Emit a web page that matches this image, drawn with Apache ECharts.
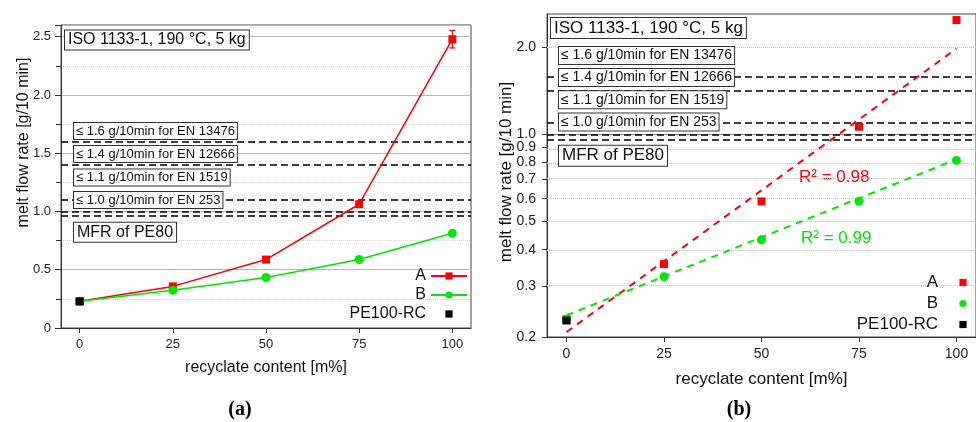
<!DOCTYPE html>
<html lang="en">
<head>
<meta charset="UTF-8">
<title>MFR</title>
<script src="https://cdn.jsdelivr.net/npm/echarts@6/dist/echarts.min.js"></script>
<style>body{margin:0;background:#fff} #chart{width:976px;height:422px}</style>
</head>
<body>
<div id="chart"></div>
<script>
var content = [0, 25, 50, 75, 100];
var mfrA = [0.23, 0.357, 0.587, 1.062, 2.478];
var errA = [0, 0, 0, 0, 0.075];
var mfrB = [0.23, 0.323, 0.433, 0.588, 0.813];
var refX = [0];
var mfrRef = [0.228];
var limits = [1.6, 1.4, 1.1, 1.0, 0.96];
var fitX = [0, 100];
var fitA = [0.208, 1.975];
var fitB = [0.2375, 0.82];
var logTicks = [0.2, 0.3, 0.4, 0.5, 0.6, 0.7, 0.8, 0.9, 1.0, 2.0];
var xTicks = [0, 25, 50, 75, 100];
var boxTexts = ['ISO 1133-1, 190 °C, 5 kg', '≤ 1.6 g/10min for EN 13476', '≤ 1.4 g/10min for EN 12666',
    '≤ 1.1 g/10min for EN 1519', '≤ 1.0 g/10min for EN 253', 'MFR of PE80'];
var r2Texts = ['R² = 0.98', 'R² = 0.99'];
var seriesNames = ['A', 'B', 'PE100-RC'];

var FONT = 'Liberation Sans, Arial, sans-serif';
var RED = '#ff0000', GREEN = '#00e800';

function lg(v) { return Math.log10(v); }
function pairs(xs, ys, f) {
    return xs.map(function (x, i) { return [x, f ? f(ys[i]) : ys[i]]; });
}

// pixel spots of the annotation boxes [left, centerY, fontSize]
var leftBoxes = [[65, 40, 16], [74, 131, 13], [74, 154, 13], [74, 177.5, 13], [74, 200, 13], [74, 232.3, 16]];
var rightBoxes = [[551, 28, 17], [559, 55.5, 14], [559, 77.5, 14], [559, 99.7, 14], [559, 122, 14], [559, 155.8, 17]];

var graphics = [];
function addBoxes(spots) {
    spots.forEach(function (s, i) {
        var big = s[2] >= 16;
        graphics.push({
            type: 'text', x: s[0], y: s[1], z: 100,
            style: {
                text: boxTexts[i], font: s[2] + 'px ' + FONT, fill: '#111',
                align: 'left', verticalAlign: 'middle',
                backgroundColor: '#fff', borderColor: '#333', borderWidth: 1,
                padding: big ? [2, 3, 1, 3] : [2, 2, 1, 2]
            }
        });
    });
}
addBoxes(leftBoxes);
addBoxes(rightBoxes);
graphics.push(
    {type: 'text', x: 24, y: 142.5, rotation: Math.PI / 2,
        style: {text: 'melt flow rate [g/10 min]', font: '16px ' + FONT, fill: '#111', align: 'center', verticalAlign: 'middle'}},
    {type: 'text', x: 506, y: 172, rotation: Math.PI / 2,
        style: {text: 'melt flow rate [g/10 min]', font: '17px ' + FONT, fill: '#111', align: 'center', verticalAlign: 'middle'}},
    {type: 'text', x: 799, y: 177.5,
        style: {text: r2Texts[0], font: '17px ' + FONT, fill: RED, align: 'left', verticalAlign: 'middle'}},
    {type: 'text', x: 801, y: 238.5,
        style: {text: r2Texts[1], font: '17px ' + FONT, fill: GREEN, align: 'left', verticalAlign: 'middle'}},
    {type: 'text', x: 240, y: 410,
        style: {text: '(a)', font: 'bold 20px Liberation Serif, serif', fill: '#000', align: 'center', verticalAlign: 'middle'}},
    {type: 'text', x: 739, y: 410,
        style: {text: '(b)', font: 'bold 20px Liberation Serif, serif', fill: '#000', align: 'center', verticalAlign: 'middle'}}
);

var errData = [];
content.forEach(function (x, i) {
    if (errA[i] > 0) errData.push([x, mfrA[i] - errA[i], mfrA[i] + errA[i]]);
});

function xAxisOf(idx, fs, gap) {
    return {
        type: 'value', gridIndex: idx, min: -5, max: 105,
        name: 'recyclate content [m%]', nameLocation: 'middle', nameGap: gap,
        nameTextStyle: {fontSize: fs, fontFamily: FONT, color: '#111'},
        axisLine: {onZero: false, lineStyle: {color: '#333'}},
        axisTick: {show: true, length: 5, customValues: xTicks, lineStyle: {color: '#333'}},
        axisLabel: {customValues: xTicks, fontSize: fs - 3, fontFamily: FONT, color: '#222', margin: 10},
        splitLine: {show: false}
    };
}

var limitLine = {
    silent: true, symbol: 'none', z: 3,
    label: {show: false},
    lineStyle: {color: '#000', type: [7, 4], width: 1.5}
};

var option = {
    animation: false,
    backgroundColor: '#fff',
    graphic: graphics,
    grid: [
        {left: 61, right: 505, top: 25, bottom: 94, show: true, borderColor: '#444', borderWidth: 1},
        {left: 547, right: -8, top: 14, bottom: 85, show: true, borderColor: '#444', borderWidth: 1}
    ],
    xAxis: [xAxisOf(0, 16, 32), xAxisOf(1, 17, 34)],
    yAxis: [
        {
            type: 'value', gridIndex: 0, min: 0, max: 2.6, interval: 0.5,
            axisLine: {show: true, onZero: false, lineStyle: {color: '#333'}},
            axisTick: {show: true, length: 6, lineStyle: {color: '#333'}},
            minorTick: {show: true, splitNumber: 2, length: 5, lineStyle: {color: '#333'}},
            axisLabel: {fontSize: 13, fontFamily: FONT, color: '#222', margin: 10, showMaxLabel: false,
                formatter: function (v) { return v === 0 ? '0' : v.toFixed(1); }},
            splitLine: {show: true, lineStyle: {color: '#b8b8b8', width: 1}},
            minorSplitLine: {show: true, lineStyle: {color: '#d4d4d4', type: 'dotted'}}
        },
        {
            type: 'value', gridIndex: 1, min: lg(0.2), max: lg(2.6),
            axisLine: {show: true, onZero: false, lineStyle: {color: '#333'}},
            axisTick: {show: true, length: 5, customValues: logTicks.map(lg), lineStyle: {color: '#333'}},
            axisLabel: {customValues: logTicks.map(lg), fontSize: 14, fontFamily: FONT, color: '#222', margin: 11,
                formatter: function (v) { return Math.pow(10, v).toFixed(1); }},
            splitLine: {show: false}
        }
    ],
    legend: [
        {
            data: seriesNames, orient: 'vertical', align: 'right', right: 508, top: 268,
            padding: 0, itemGap: 3, itemWidth: 36, itemHeight: 9, selectedMode: false,
            textStyle: {fontSize: 16, fontFamily: FONT, color: '#111'}
        },
        {
            data: seriesNames.map(function (n) { return n + ' (b)'; }),
            formatter: function (n) { return n.replace(' (b)', ''); },
            orient: 'vertical', align: 'right', right: -7, top: 274,
            padding: 0, itemGap: 4, itemWidth: 40, itemHeight: 9, selectedMode: false,
            textStyle: {fontSize: 17, fontFamily: FONT, color: '#111'}
        }
    ],
    series: [
        // (a) linear
        {
            type: 'custom', xAxisIndex: 0, yAxisIndex: 0, z: 3, silent: true,
            data: errData,
            renderItem: function (params, api) {
                var top = api.coord([api.value(0), api.value(2)]);
                var bot = api.coord([api.value(0), api.value(1)]);
                var st = {stroke: RED, lineWidth: 1.2};
                return {type: 'group', children: [
                    {type: 'line', shape: {x1: top[0], y1: top[1], x2: bot[0], y2: bot[1]}, style: st},
                    {type: 'line', shape: {x1: top[0] - 3, y1: top[1], x2: top[0] + 3, y2: top[1]}, style: st},
                    {type: 'line', shape: {x1: bot[0] - 3, y1: bot[1], x2: bot[0] + 3, y2: bot[1]}, style: st}
                ]};
            }
        },
        {
            name: 'A', type: 'line', xAxisIndex: 0, yAxisIndex: 0, z: 4,
            data: pairs(content, mfrA), symbol: 'rect', symbolSize: 8,
            itemStyle: {color: RED}, lineStyle: {color: RED, width: 1.5},
            markLine: Object.assign({data: limits.map(function (v) { return {yAxis: v}; })}, limitLine)
        },
        {
            name: 'B', type: 'line', xAxisIndex: 0, yAxisIndex: 0, z: 4,
            data: pairs(content, mfrB), symbol: 'circle', symbolSize: 9,
            itemStyle: {color: GREEN}, lineStyle: {color: GREEN, width: 1.5}
        },
        {
            name: 'PE100-RC', type: 'line', xAxisIndex: 0, yAxisIndex: 0, z: 6,
            data: pairs(refX, mfrRef), symbol: 'rect', symbolSize: 8,
            itemStyle: {color: '#000'}, lineStyle: {width: 0, opacity: 0}
        },
        // (b) logarithmic
        {
            type: 'line', xAxisIndex: 1, yAxisIndex: 1, z: 1, silent: true,
            data: pairs(fitX, fitB, lg), symbol: 'none', lineStyle: {opacity: 0},
            markLine: {
                silent: true, symbol: 'none', z: 1, label: {show: false},
                data: logTicks.map(function (v) {
                    return {yAxis: lg(v), lineStyle: v === 1 ? {color: '#8a8a8a', type: 'solid', width: 1} : {color: '#c4c4c4', type: 'dotted', width: 1}};
                })
            }
        },
        {
            type: 'line', xAxisIndex: 1, yAxisIndex: 1, z: 3, silent: true,
            data: pairs(fitX, fitA, lg), symbol: 'none',
            lineStyle: {color: RED, width: 2, type: [7, 6]},
            markLine: Object.assign({data: limits.map(function (v) { return {yAxis: lg(v)}; })}, limitLine)
        },
        {
            type: 'line', xAxisIndex: 1, yAxisIndex: 1, z: 3, silent: true,
            data: pairs(fitX, fitB, lg), symbol: 'none',
            lineStyle: {color: GREEN, width: 2, type: [7, 6]}
        },
        {
            name: 'A (b)', type: 'line', xAxisIndex: 1, yAxisIndex: 1, z: 4,
            data: pairs(content, mfrA, lg), symbol: 'rect', symbolSize: 8,
            itemStyle: {color: RED}, lineStyle: {width: 0, opacity: 0}
        },
        {
            name: 'B (b)', type: 'line', xAxisIndex: 1, yAxisIndex: 1, z: 4,
            data: pairs(content, mfrB, lg), symbol: 'circle', symbolSize: 9,
            itemStyle: {color: GREEN}, lineStyle: {width: 0, opacity: 0}
        },
        {
            name: 'PE100-RC (b)', type: 'line', xAxisIndex: 1, yAxisIndex: 1, z: 6,
            data: pairs(refX, mfrRef, lg), symbol: 'rect', symbolSize: 8,
            itemStyle: {color: '#000'}, lineStyle: {width: 0, opacity: 0}
        }
    ]
};

var chart = echarts.init(document.getElementById('chart'));
chart.setOption(option);
</script>
</body>
</html>
